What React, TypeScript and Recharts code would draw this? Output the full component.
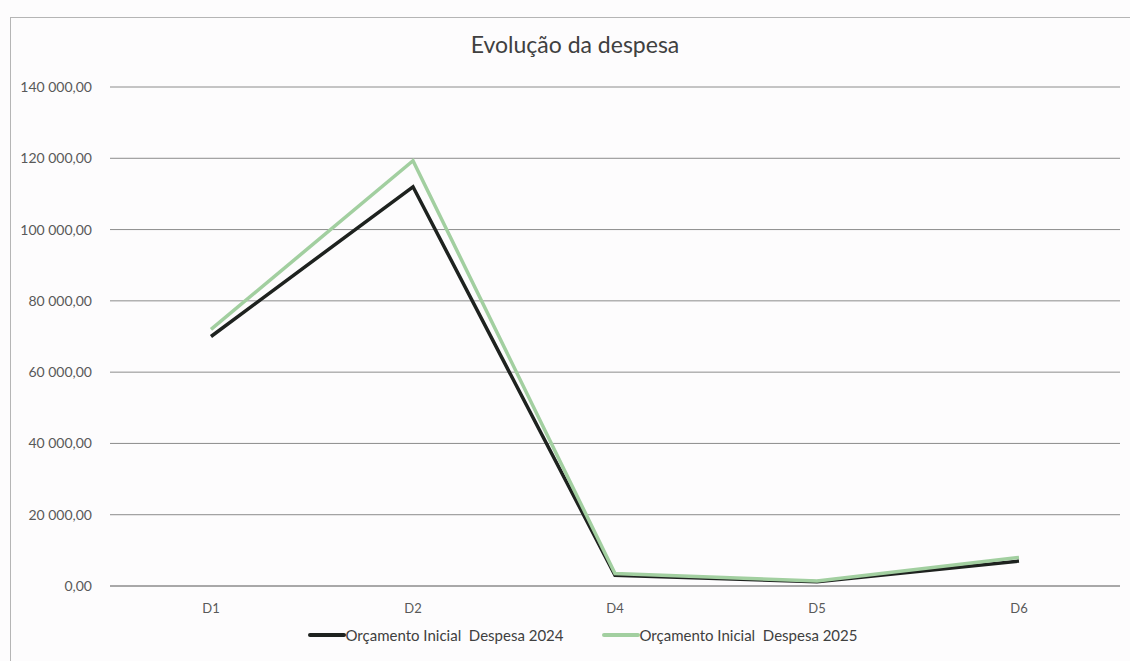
import React from 'react';
import { LineChart, Line, XAxis, YAxis, CartesianGrid, Legend } from 'recharts';

const categories = ['D1', 'D2', 'D4', 'D5', 'D6'];
const despesa2024 = [70000, 112000, 3000, 1200, 7000];
const despesa2025 = [72000, 119300, 3500, 1400, 8000];
const yTicks = [0, 20000, 40000, 60000, 80000, 100000, 120000, 140000];

const SERIES = [
  { key: 'd2024', name: 'Orçamento Inicial  Despesa 2024', color: '#1e221f' },
  { key: 'd2025', name: 'Orçamento Inicial  Despesa 2025', color: '#a2cfa0' },
];

const data = categories.map((c, i) => ({
  cat: c,
  d2024: despesa2024[i],
  d2025: despesa2025[i],
}));

const fmt = (v: number) => {
  const [int, dec] = v.toFixed(2).split('.');
  return int.replace(/\B(?=(\d{3})+(?!\d))/g, ' ') + ',' + dec;
};

const FONT = 'Lato, "Open Sans", sans-serif';

const LegendContent = () => (
  <div style={{ display: 'flex', justifyContent: 'center', gap: 38, fontFamily: FONT, fontSize: 15, color: '#404040' }}>
    {SERIES.map((s) => (
      <div key={s.key} style={{ display: 'flex', alignItems: 'center' }}>
        <div style={{ width: 38, height: 4, background: s.color, borderRadius: 2 }} />
        <span style={{ whiteSpace: 'pre' }}>{s.name}</span>
      </div>
    ))}
  </div>
);

export default function App() {
  return (
    <div style={{ position: 'absolute', left: 0, top: 0, width: 1130, height: 661, background: '#fdfcfd', overflow: 'hidden' }}>
      <div style={{ position: 'absolute', left: 10, top: 17, width: 1125, height: 660, border: '1px solid #b5b5b5' }} />
      <div style={{ position: 'absolute', left: 0, top: 30, width: 1150, textAlign: 'center', fontFamily: FONT, fontSize: 23, color: '#404040' }}>
        Evolução da despesa
      </div>
      <LineChart width={1130} height={661} data={data} margin={{ top: 87, right: 10, left: 10, bottom: 45 }}>
        <CartesianGrid vertical={false} stroke="#8c8c8c" strokeWidth={1} />
        <XAxis
          dataKey="cat"
          height={30}
          padding={{ left: 101, right: 101 }}
          axisLine={{ stroke: '#8c8c8c' }}
          tickLine={false}
          tick={{ fill: '#595959', fontSize: 13, fontFamily: FONT }}
          tickMargin={12}
        />
        <YAxis
          width={100}
          domain={[0, 140000]}
          ticks={yTicks}
          tickFormatter={fmt}
          axisLine={false}
          tickLine={false}
          tickMargin={12}
          tick={{ fill: '#595959', fontSize: 14, fontFamily: FONT }}
        />
        <Legend
          verticalAlign="middle"
          align="center"
          layout="horizontal"
          content={<LegendContent />}
          wrapperStyle={{ top: 626, left: 0, width: 1165 }}
        />
        {SERIES.map((s) => (
          <Line
            key={s.key}
            dataKey={s.key}
            name={s.name}
            stroke={s.color}
            strokeWidth={3.5}
            dot={false}
            isAnimationActive={false}
            type="linear"
          />
        ))}
      </LineChart>
    </div>
  );
}
